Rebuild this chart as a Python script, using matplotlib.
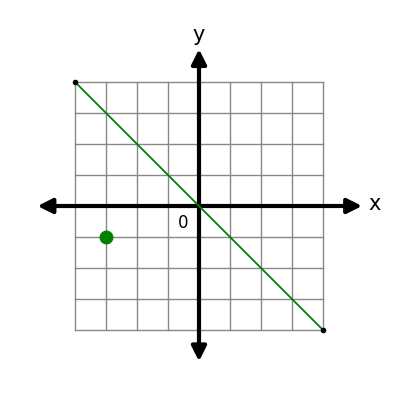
import matplotlib.pyplot as plt

grid_ticks = [-4, -3, -2, -1, 0, 1, 2, 3, 4]
line_x = [-4, 4]
line_y = [4, -4]
point_x = [-3]
point_y = [-1]

fig = plt.figure(figsize=(4, 4), dpi=100)
ax = fig.add_axes([0, 0, 1, 1])
ax.set_xlim(-199 / 31, 201 / 31)
ax.set_ylim(-194 / 31, 206 / 31)
ax.axis('off')

for t in grid_ticks:
    ax.plot([t, t], [-4, 4], color='#888888', lw=1, zorder=1)
    ax.plot([-4, 4], [t, t], color='#888888', lw=1, zorder=1)

# axes with arrows
ax.annotate('', xy=(5.35, 0), xytext=(-5.3, 0),
            arrowprops=dict(arrowstyle='<|-|>', color='black', lw=3, mutation_scale=22))
ax.annotate('', xy=(0, 5.15), xytext=(0, -5.1),
            arrowprops=dict(arrowstyle='<|-|>', color='black', lw=3, mutation_scale=22))
ax.text(5.45, 0.05, 'x', fontsize=15, ha='left', va='center')
ax.text(0, 5.2, 'y', fontsize=15, ha='center', va='bottom')
ax.text(-0.5, -0.55, '0', fontsize=12, ha='center', va='center')

ax.plot(line_x, line_y, color='green', lw=1.3, zorder=3)
ax.plot(line_x, line_y, 'o', color='black', ms=3, zorder=4)
ax.plot(point_x, point_y, 'o', color='green', ms=9, zorder=5)

fig.savefig('out.png', dpi=100)
